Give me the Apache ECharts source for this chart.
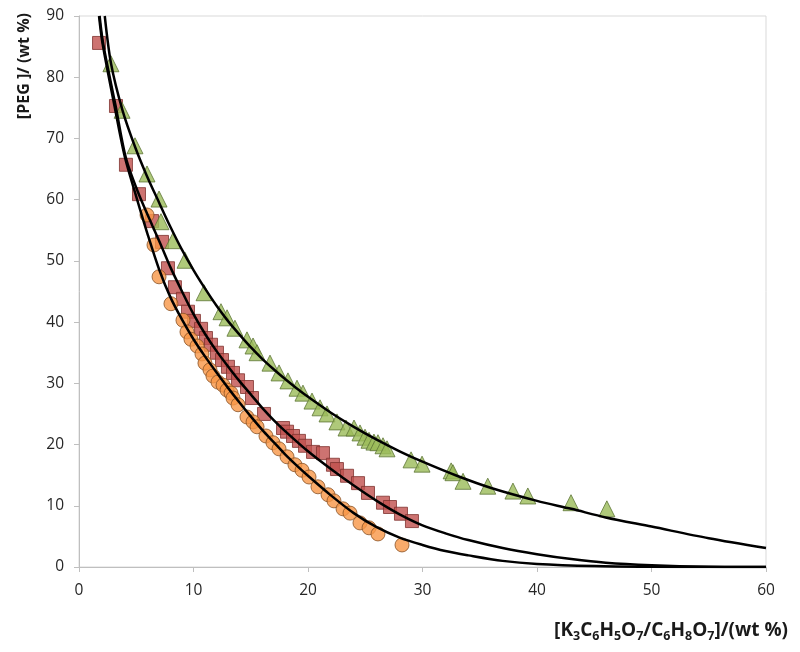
<!DOCTYPE html>
<html>
<head>
<meta charset="utf-8">
<script src="https://cdn.jsdelivr.net/npm/echarts@6/dist/echarts.min.js"></script>
<style>html,body{margin:0;padding:0;background:#fff}#c{width:800px;height:652px}</style>
</head>
<body>
<div id="c"></div>
<script>
// Series 1: squares (red)
const squaresX = [1.75,3.23,4.10,5.24,6.38,7.25,7.77,8.38,9.08,9.52,10.04,10.66,11.09,11.53,12.05,12.49,13.01,13.45,13.89,14.67,15.11,16.16,17.82,18.17,18.69,19.21,19.74,20.44,21.31,22.18,22.53,23.41,24.37,25.24,26.55,27.16,28.12,29.08];
const squaresY = [85.6,75.3,65.7,60.9,56.5,53.1,48.8,45.7,43.8,41.7,40.2,38.9,37.4,36.3,35.0,33.8,32.7,31.7,30.5,29.4,27.6,25.0,22.7,22.1,21.4,20.6,19.8,18.8,18.6,16.7,16.0,14.9,13.7,12.1,10.5,9.8,8.7,7.5];
// Series 2: circles (orange)
const circlesX = [5.94,6.55,6.99,8.03,9.08,9.43,9.78,10.31,10.74,11.00,11.44,11.70,12.14,12.58,12.93,13.28,13.45,13.89,14.67,15.20,15.55,16.33,16.94,17.47,18.17,18.86,19.48,20.09,20.87,21.75,22.27,23.06,23.67,24.54,25.33,26.11,28.21];
const circlesY = [57.5,52.6,47.4,43.0,40.3,38.4,37.2,36.1,34.8,33.3,32.2,31.2,30.2,29.7,28.9,28.4,27.6,26.5,24.5,23.7,22.9,21.4,20.3,19.3,18.0,16.7,15.8,14.7,13.1,11.8,10.8,9.5,8.8,7.2,6.4,5.4,3.6];
// Series 3: triangles (green)
const trianglesX = [2.79,3.76,4.89,5.94,6.99,7.16,8.21,9.26,10.92,12.40,12.93,13.62,14.67,15.20,15.55,16.68,17.47,18.25,19.04,19.56,20.35,21.05,21.66,22.53,23.32,24.02,24.54,24.98,25.33,25.76,26.11,26.55,26.90,29.0,29.96,32.5,32.66,33.54,35.7,37.9,39.2,42.97,46.1];
const trianglesY = [82.2,74.6,68.8,64.2,60.1,56.4,53.3,50.1,44.8,41.7,40.7,39.0,37.1,36.1,35.0,33.3,31.7,30.4,29.2,28.4,27.1,26.0,25.0,23.7,22.7,22.7,21.9,21.2,20.7,20.4,20.3,19.8,19.3,17.5,16.8,15.7,15.4,14.0,13.2,12.4,11.6,10.5,9.5];
// Fitted curves
const curveSqX = [1.8,2.1,3.2,4.1,5.2,6.4,7.2,8,9,10,11,12,13,14,15,16,17,18,20,22,24,26,28,30,32,34,37,40,43,46,50,55,60];
const curveSqY = [90,85.6,75.3,66.8,61,55.8,52.4,48.9,45,41.3,38.1,35.3,32.8,30.4,28.2,26.0,24.0,22.2,18.9,16.0,13.3,10.8,8.6,6.8,5.5,4.4,3.1,2.1,1.3,0.7,0.3,0.05,0];
const curveCiX = [1.75,2.05,3.1,4,5,6,7,8,9,10,11,12,13,14,15,16,17,18,19,20,22,24,26,28,30,32,34,37,40,45,50,55,60];
const curveCiY = [90,85.6,75.3,67,60.5,54.3,48.6,44,40.4,37.2,34.4,31.8,29.3,26.9,24.6,22.4,20.4,18.4,16.6,14.9,11.7,8.8,6.5,4.8,3.6,2.6,1.9,1.0,0.5,0.15,0.03,0,0];
const curveTrX = [2.25,2.8,3.8,4.9,5.9,7,8,9,10,11,12,13,14,15,16,17,18,19,20,22,24,26,28,30,33,36,40,43,46,50,55,60];
const curveTrY = [90,82.2,74.6,68.6,64,59.5,55.5,51.8,48.5,45.5,42.7,40.2,38,35.9,34.0,32.3,30.7,29.2,27.8,25.2,22.9,20.8,18.9,17.2,14.9,12.9,10.8,9.5,8.1,6.6,4.7,3.1];
const xTicks = [0,10,20,30,40,50,60];
const yTicks = [0,10,20,30,40,50,60,70,80,90];

const zip = (a,b) => a.map((v,i)=>[v,b[i]]);
const chart = echarts.init(document.getElementById('c'), null, {renderer:'canvas'});
const axisCol = '#BFBFBF';
const lblCol = '#262626';
const font = '"Open Sans", "Liberation Sans", sans-serif';
const lineSeries = (d) => ({type:'line', data:d, smooth:0.3, showSymbol:false, symbol:'none', z:10, zlevel:1,
  lineStyle:{color:'#000', width:2.5}, silent:true, animation:false});
chart.setOption({
  animation:false,
  backgroundColor:'#fff',
  grid:{left:79, right:34, top:16, bottom:85, show:true, borderColor:'#D9D9D9', borderWidth:1},
  xAxis:{type:'value', min:xTicks[0], max:xTicks[xTicks.length-1], interval:10,
    axisLine:{lineStyle:{color:axisCol}}, axisTick:{show:true, length:5, lineStyle:{color:axisCol}},
    splitLine:{show:false},
    axisLabel:{color:lblCol, fontSize:15.5, fontFamily:font, margin:16},
    name:'[K{s|3}C{s|6}H{s|5}O{s|7}/C{s|6}H{s|8}O{s|7}]/(wt %)', nameLocation:'end', nameGap:0,
    nameTextStyle:{fontFamily:font, fontWeight:'bold', fontSize:19, color:'#1a1a1a', align:'right', verticalAlign:'top',
      padding:[52,-22,0,0],
      rich:{s:{fontFamily:font, fontWeight:'bold', fontSize:12.5, color:'#1a1a1a', verticalAlign:'bottom', padding:[11,0,0,0]}}}
  },
  yAxis:{type:'value', min:yTicks[0], max:yTicks[yTicks.length-1], interval:10,
    axisLine:{show:true, lineStyle:{color:axisCol}}, axisTick:{show:true, length:5, lineStyle:{color:axisCol}},
    splitLine:{show:false},
    axisLabel:{color:lblCol, fontSize:15.5, fontFamily:font, margin:15},
    name:'[PEG ]/ (wt %)', nameLocation:'end', nameRotate:90, nameGap:0,
    nameTextStyle:{fontFamily:font, fontWeight:'bold', fontSize:16, color:'#1a1a1a', align:'right', verticalAlign:'bottom', padding:[0,-3,47,0]}
  },
  series:[
    {type:'scatter', data:zip(squaresX,squaresY), symbol:'rect', symbolSize:13, z:2,
      itemStyle:{color:'#C0504D', borderColor:'#7F3330', borderWidth:1}},
    {type:'scatter', data:zip(circlesX,circlesY), symbol:'circle', symbolSize:14, z:3,
      itemStyle:{color:'#F79646', borderColor:'#8A5226', borderWidth:1}},
    {type:'scatter', data:zip(trianglesX,trianglesY), symbol:'triangle', symbolSize:16, z:4,
      itemStyle:{color:'#9BBB59', borderColor:'#5E7536', borderWidth:1}},
    lineSeries(zip(curveSqX,curveSqY)),
    lineSeries(zip(curveCiX,curveCiY)),
    lineSeries(zip(curveTrX,curveTrY))
  ]
});
</script>
</body>
</html>
